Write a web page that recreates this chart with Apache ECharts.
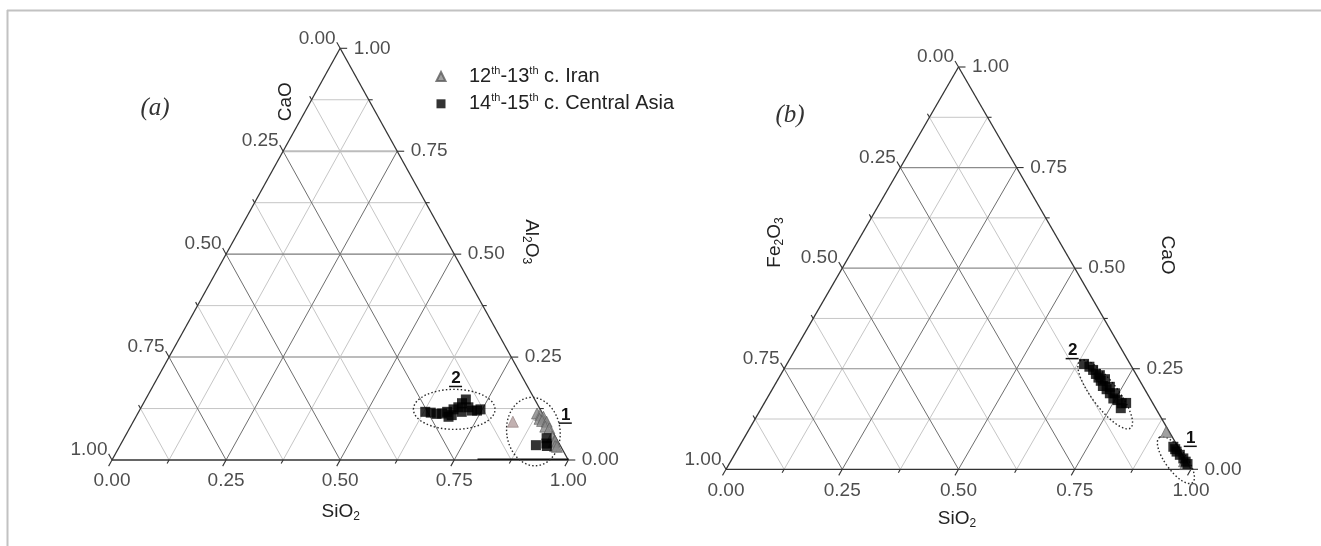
<!DOCTYPE html>
<html><head><meta charset="utf-8">
<script src="https://cdn.jsdelivr.net/npm/echarts@6/dist/echarts.min.js"></script>
<style>html,body{margin:0;padding:0;background:#fff}#c{width:1321px;height:546px}</style>
</head><body><div id="c"></div>
<script>
// ---------------- data ----------------
const tickValues = [0, 0.25, 0.5, 0.75, 1];
const tickLabels = ['0.00', '0.25', '0.50', '0.75', '1.00'];
const allTickValues = [0, 0.125, 0.25, 0.375, 0.5, 0.625, 0.75, 0.875, 1];
const gridSteps = [0.125, 0.25, 0.375, 0.5, 0.625, 0.75, 0.875];
const seriesNames = ['12th-13th c. Iran', '14th-15th c. Central Asia'];

// Panel (a): [SiO2, Al2O3]  (CaO = 1 - SiO2 - Al2O3)
const aIran = [
  [0.832, 0.093], [0.875, 0.113], [0.884, 0.109], [0.893, 0.105], [0.887, 0.100],
  [0.895, 0.095], [0.906, 0.093], [0.909, 0.081], [0.920, 0.077], [0.936, 0.057],
  [0.946, 0.044], [0.948, 0.046], [0.954, 0.034], [0.959, 0.032]
];
const aCentralAsia = [
  [0.628, 0.117], [0.641, 0.115], [0.655, 0.112], [0.667, 0.113], [0.676, 0.117],
  [0.690, 0.109], [0.685, 0.105], [0.687, 0.123], [0.695, 0.128], [0.698, 0.138],
  [0.702, 0.147], [0.708, 0.117], [0.717, 0.128], [0.729, 0.120], [0.740, 0.120],
  [0.746, 0.123],
  [0.911, 0.036], [0.926, 0.053], [0.936, 0.034], [0.932, 0.040]
];
// Panel (b): [SiO2, CaO]  (Fe2O3 = 1 - SiO2 - CaO)
const bIran = [[0.900, 0.093], [0.975, 0.020], [0.981, 0.013]];
const bCentralAsia = [
  [0.639, 0.262], [0.654, 0.255], [0.666, 0.247], [0.677, 0.237], [0.687, 0.234],
  [0.687, 0.228], [0.696, 0.220], [0.703, 0.224], [0.707, 0.207], [0.719, 0.199],
  [0.723, 0.205], [0.731, 0.189], [0.742, 0.189], [0.745, 0.176], [0.756, 0.172],
  [0.769, 0.164], [0.778, 0.165], [0.773, 0.152],
  [0.934, 0.056], [0.941, 0.050], [0.947, 0.044], [0.958, 0.036], [0.970, 0.027],
  [0.979, 0.019], [0.986, 0.013]
];

// ---------------- helpers ----------------
const FONT = '"Liberation Sans", Arial, sans-serif';
const TXT = '#222';
const toXY = (si, top) => [si + top / 2, top];   // ternary -> cartesian
const norm = v => { const l = Math.hypot(v[0], v[1]); return [v[0] / l, v[1] / l]; };

const LINE_STYLES = {
  minor: { c: '#c6c6c6', w: 1, r: 0 },
  aHMaj: { c: '#bcbcbc', w: 2, r: 1 },
  aHMid: { c: '#7a7a7a', w: 1.2, r: 2 },
  bHMaj: { c: '#8c8c8c', w: 1.2, r: 2 },
  bHMid: { c: '#8c8c8c', w: 1.2, r: 2 },
  dMaj: { c: '#6e6e6e', w: 1, r: 2 },
  edge: { c: '#333333', w: 1.3, r: 3 },
  accent: { c: '#111111', w: 1.6, r: 4 }
};

function buildSegs(panel) {
  const segs = [];
  const push = (a, b, style) => {
    const p = toXY(a[0], a[1]), q = toXY(b[0], b[1]);
    segs.push([p[0], p[1], q[0], q[1], style]);
  };
  gridSteps.forEach(f => {
    const major = (f * 4) % 1 === 0;
    push([0, f], [1 - f, f], major ? (f === 0.5 ? panel + 'HMid' : panel + 'HMaj') : 'minor');
    push([f, 0], [f, 1 - f], major ? 'dMaj' : 'minor');
    push([0, 1 - f], [1 - f, 0], major ? 'dMaj' : 'minor');
  });
  push([0, 0], [1, 0], 'edge');
  push([1, 0], [0, 1], 'edge');
  push([0, 1], [0, 0], 'edge');
  if (panel === 'a') push([0.8, 0.002], [1, 0.002], 'accent');
  segs.sort((s, t) => LINE_STYLES[s[4]].r - LINE_STYLES[t[4]].r);
  return segs;
}

function segSeries(gi, segs) {
  return {
    type: 'custom', xAxisIndex: gi, yAxisIndex: gi, silent: true, z: 1,
    data: segs.map(s => [s[0], s[1], s[2], s[3]]),
    encode: { x: [0, 2], y: [1, 3] },
    renderItem: (params, api) => {
      const st = LINE_STYLES[segs[params.dataIndex][4]];
      const p1 = api.coord([api.value(0), api.value(1)]);
      const p2 = api.coord([api.value(2), api.value(3)]);
      return { type: 'line', shape: { x1: p1[0], y1: p1[1], x2: p2[0], y2: p2[1] },
               style: { stroke: st.c, lineWidth: st.w } };
    }
  };
}

function tickSeries(gi) {
  const items = [];
  allTickValues.forEach(v => {
    const major = tickValues.includes(v);
    items.push({ pos: toXY(v, 0), side: 'bottom', major });
    items.push({ pos: toXY(1 - v, v), side: 'right', major });
    items.push({ pos: toXY(0, 1 - v), side: 'left', major });
  });
  return {
    type: 'custom', xAxisIndex: gi, yAxisIndex: gi, silent: true, z: 2,
    data: items.map(i => i.pos),
    renderItem: (params, api) => {
      const it = items[params.dataIndex];
      const p = api.coord([api.value(0), api.value(1)]);
      const T = api.coord([0.5, 1]), L = api.coord([0, 0]), R = api.coord([1, 0]);
      let d;
      if (it.side === 'right') d = [1, 0];
      else if (it.side === 'left') d = norm([T[0] - R[0], T[1] - R[1]]);
      else d = norm([L[0] - T[0], L[1] - T[1]]);
      const len = it.major ? 7 : 4;
      return { type: 'line', shape: { x1: p[0], y1: p[1], x2: p[0] + d[0] * len, y2: p[1] + d[1] * len },
               style: { stroke: '#333', lineWidth: 1.1 } };
    }
  };
}

function labelSeries(gi, side) {
  const data = tickValues.map(v =>
    side === 'bottom' ? toXY(v, 0) : side === 'right' ? toXY(1 - v, v) : toXY(0, 1 - v));
  const pos = side === 'bottom' ? { position: 'bottom', distance: 11 }
            : side === 'right' ? { position: 'right', distance: 13 }
            : { position: 'left', distance: 4, offset: [0, -10] };
  return {
    type: 'scatter', xAxisIndex: gi, yAxisIndex: gi, silent: true, z: 5,
    symbol: 'circle', symbolSize: 1, itemStyle: { color: 'rgba(0,0,0,0)' },
    data,
    label: Object.assign({ show: true, fontSize: 19, fontFamily: FONT, color: TXT,
                           formatter: p => tickLabels[p.dataIndex] }, pos)
  };
}

const ELLIPSES = {
  a: [ { c: [0.6885, 0.123], rx: 40.8, ry: 20, rot: 0 },
       { c: [0.889, 0.069], rx: 26.7, ry: 34.3, rot: 7 } ],
  b: [ { c: [0.7225, 0.186], rx: 42, ry: 13, rot: -53 },
       { c: [0.956, 0.023], rx: 28, ry: 10.5, rot: -54 } ]
};
const TAGS = {
  a: [ { c: [0.655, 0.198], t: '2' }, { c: [0.940, 0.109], t: '1' } ],
  b: [ { c: [0.598, 0.295], t: '2' }, { c: [0.961, 0.077], t: '1' } ]
};

function ellipseSeries(gi, list) {
  return {
    type: 'custom', xAxisIndex: gi, yAxisIndex: gi, silent: true, z: 3,
    data: list.map(e => toXY(e.c[0], e.c[1])),
    renderItem: (params, api) => {
      const e = list[params.dataIndex];
      const p = api.coord([api.value(0), api.value(1)]);
      return { type: 'ellipse', x: p[0], y: p[1], rotation: e.rot * Math.PI / 180,
               shape: { cx: 0, cy: 0, rx: e.rx, ry: e.ry },
               style: { fill: null, stroke: '#2a2a2a', lineWidth: 1.4, lineDash: [1.5, 2.2] } };
    }
  };
}

function tagSeries(gi, list) {
  return {
    type: 'custom', xAxisIndex: gi, yAxisIndex: gi, silent: true, z: 6,
    data: list.map(e => toXY(e.c[0], e.c[1])),
    renderItem: (params, api) => {
      const e = list[params.dataIndex];
      const p = api.coord([api.value(0), api.value(1)]);
      return { type: 'group', children: [
        { type: 'text', x: p[0], y: p[1],
          style: { text: e.t, fontSize: 17, fontWeight: 'bold', fontFamily: FONT, fill: '#111',
                   align: 'center', verticalAlign: 'middle', textAlign: 'center', textVerticalAlign: 'middle' } },
        { type: 'line', shape: { x1: p[0] - 7, y1: p[1] + 8, x2: p[0] + 6, y2: p[1] + 8 },
          style: { stroke: '#111', lineWidth: 1.5 } }
      ] };
    }
  };
}

function pointSeries(gi, name, arr, isIran) {
  return {
    type: 'scatter', name, xAxisIndex: gi, yAxisIndex: gi, z: 4,
    symbol: isIran ? 'triangle' : 'rect',
    symbolSize: isIran ? 11 : 10,
    itemStyle: isIran ? { color: '#888888', borderColor: '#5c5c5c', borderWidth: 0.8 }
                      : { color: '#000000' },
    emphasis: { disabled: true },
    data: arr.map((d, i) => {
      const item = { value: toXY(d[0], d[1]) };
      if (isIran && gi === 0 && i === 0) item.itemStyle = { color: '#b39d9d', borderColor: '#8f7c7c' };
      return item;
    })
  };
}

// rich text helpers
const subRich = (size, color) => ({
  n: { fontSize: size, fontFamily: FONT, color: color, lineHeight: 22 },
  b: { fontSize: 12, fontFamily: FONT, color: color, lineHeight: 10, verticalAlign: 'bottom' }
});
function chem(f) { // 'Al2O3' -> rich
  return f.replace(/([A-Za-z]+)|(\d)/g, (m, w, d) => w ? '{n|' + w + '}' : '{b|' + d + '}');
}
function titleText(x, y, f, rot) {
  return { type: 'text', x, y, rotation: (rot || 0) * Math.PI / 180,
    style: { text: chem(f), rich: subRich(19, TXT), fill: TXT, fontSize: 19, fontFamily: FONT,
             align: 'center', verticalAlign: 'middle', textAlign: 'center', textVerticalAlign: 'middle' } };
}

const chart = echarts.init(document.getElementById('c'), null, { renderer: 'canvas' });
chart.setOption({
  animation: false,
  backgroundColor: '#ffffff',
  grid: [
    { left: 112, top: 48.3, width: 456.3, height: 411.7 },
    { left: 726, top: 67, width: 465, height: 402.3 }
  ],
  xAxis: [
    { gridIndex: 0, type: 'value', min: 0, max: 1, show: false },
    { gridIndex: 1, type: 'value', min: 0, max: 1, show: false }
  ],
  yAxis: [
    { gridIndex: 0, type: 'value', min: 0, max: 1, show: false },
    { gridIndex: 1, type: 'value', min: 0, max: 1, show: false }
  ],
  legend: {
    orient: 'vertical', left: 435.5, top: 65.5, padding: 0,
    itemWidth: 9, itemHeight: 9, itemGap: 6.3,
    selectedMode: false,
    data: seriesNames,
    formatter: name => '{sp| }{n|' + name.replace(/th/g, '}{s|th}{n|') + '}',
    textStyle: {
      fontSize: 20, fontFamily: FONT, color: TXT,
      rich: {
        sp: { width: 18.5 },
        n: { fontSize: 20, fontFamily: FONT, color: TXT, lineHeight: 22 },
        s: { fontSize: 11, fontFamily: FONT, color: TXT, lineHeight: 12, verticalAlign: 'top' }
      }
    }
  },
  graphic: [
    { type: 'line', shape: { x1: 7, y1: 10.5, x2: 1321, y2: 10.5 }, style: { stroke: '#c2c2c2', lineWidth: 2 } },
    { type: 'line', shape: { x1: 7.5, y1: 10, x2: 7.5, y2: 546 }, style: { stroke: '#c2c2c2', lineWidth: 2 } },
    { type: 'text', x: 155, y: 108,
      style: { text: '(a)', fontSize: 25, fontStyle: 'italic', fontFamily: '"Liberation Serif", "Times New Roman", serif',
               fill: '#333', align: 'center', verticalAlign: 'middle', textAlign: 'center', textVerticalAlign: 'middle' } },
    { type: 'text', x: 790, y: 115,
      style: { text: '(b)', fontSize: 25, fontStyle: 'italic', fontFamily: '"Liberation Serif", "Times New Roman", serif',
               fill: '#333', align: 'center', verticalAlign: 'middle', textAlign: 'center', textVerticalAlign: 'middle' } },
    titleText(285.7, 101.7, 'CaO', 90),
    titleText(531.4, 241.7, 'Al2O3', -90),
    titleText(340.7, 511.7, 'SiO2', 0),
    titleText(774.3, 242.5, 'Fe2O3', 90),
    titleText(1167, 255, 'CaO', -90),
    titleText(957, 519, 'SiO2', 0)
  ],
  series: [
    segSeries(0, buildSegs('a')), segSeries(1, buildSegs('b')),
    tickSeries(0), tickSeries(1),
    labelSeries(0, 'bottom'), labelSeries(0, 'right'), labelSeries(0, 'left'),
    labelSeries(1, 'bottom'), labelSeries(1, 'right'), labelSeries(1, 'left'),
    ellipseSeries(0, ELLIPSES.a), ellipseSeries(1, ELLIPSES.b),
    pointSeries(0, seriesNames[0], aIran, true),
    pointSeries(0, seriesNames[1], aCentralAsia, false),
    pointSeries(1, seriesNames[0], bIran, true),
    pointSeries(1, seriesNames[1], bCentralAsia, false),
    tagSeries(0, TAGS.a), tagSeries(1, TAGS.b)
  ]
});
</script>
</body></html>
